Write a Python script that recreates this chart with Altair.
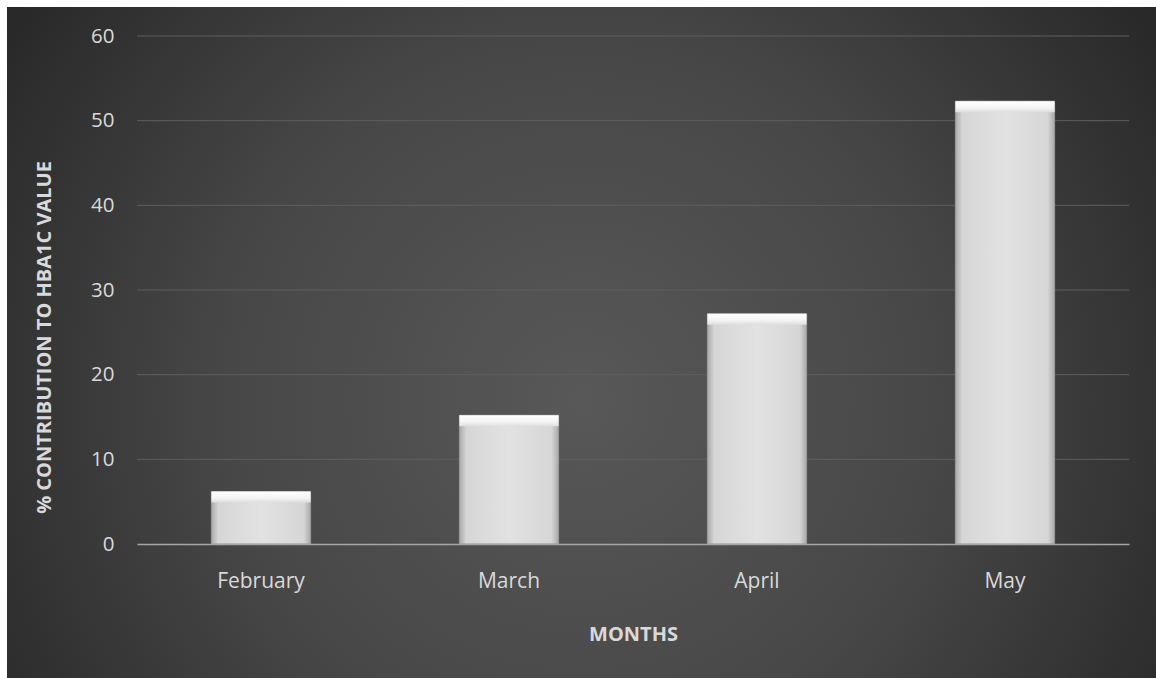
import altair as alt
import pandas as pd

months = ["February", "March", "April", "May"]
values = [6.2, 15.2, 27.2, 52.3]
y_ticks = [0, 10, 20, 30, 40, 50, 60]

df = pd.DataFrame({"month": months, "value": values})
grid_df = pd.DataFrame({"tick": y_ticks[1:]})
bg = pd.DataFrame({"k": [0]})

W, H = 992, 508
FONT = "Open Sans"

background = alt.Chart(bg).mark_rect(
    fill={
        "gradient": "radial",
        "x1": 0.5, "y1": 0.55, "x2": 0.5, "y2": 0.55,
        "r1": 0, "r2": 0.62,
        "stops": [
            {"offset": 0, "color": "#585858"},
            {"offset": 0.5, "color": "#474747"},
            {"offset": 1, "color": "#262626"},
        ],
    }
).encode(
    x=alt.value(-130), x2=alt.value(1019),
    y=alt.value(-29), y2=alt.value(642),
)

yscale = alt.Scale(domain=[0, 60])
yaxis = alt.Axis(
    values=y_ticks,
    title="% CONTRIBUTION TO HBA1C VALUE",
    labelColor="#d9d9d9", labelFont=FONT, labelFontSize=20.5, labelPadding=23,
    domain=False, ticks=False, grid=False,
    titleColor="#d9d9d9", titleFont=FONT, titleFontSize=20, titleFontWeight="bold",
    titleX=-83, titleY=301, titleBaseline="bottom", titleAngle=270, zindex=1,
)

grid = alt.Chart(grid_df).mark_rule(color="#5e5e5e", strokeWidth=1).encode(
    y=alt.Y("tick:Q", scale=yscale, axis=yaxis),
    x=alt.value(0), x2=alt.value(W),
)

xenc = alt.X(
    "month:N", sort=months,
    scale=alt.Scale(paddingInner=0.6, paddingOuter=0.3),
    axis=alt.Axis(
        title="MONTHS", labelAngle=0, labelColor="#d9d9d9", labelFont=FONT,
        labelFontSize=21, labelPadding=26, ticks=False,
        domain=True, domainColor="#a6a6a6", domainWidth=1.5,
        titleColor="#d9d9d9", titleFont=FONT, titleFontSize=20, titleFontWeight="bold",
        titleBaseline="alphabetic", titleY=96, zindex=1,
    ),
)
yenc = alt.Y("value:Q", scale=yscale, axis=yaxis)

bars = alt.Chart(df).mark_bar(
    fill={
        "gradient": "linear", "x1": 0, "y1": 0, "x2": 1, "y2": 0,
        "stops": [
            {"offset": 0, "color": "#a9a9a9"},
            {"offset": 0.07, "color": "#d6d6d6"},
            {"offset": 0.5, "color": "#e2e2e2"},
            {"offset": 0.93, "color": "#d6d6d6"},
            {"offset": 1, "color": "#a9a9a9"},
        ],
    },
    stroke="#9a9a9a", strokeWidth=1,
).encode(x=xenc, y=yenc)

bevel = alt.Chart(df).mark_bar(
    y2Offset=11,
    fill={
        "gradient": "linear", "x1": 0, "y1": 0, "x2": 0, "y2": 1,
        "stops": [
            {"offset": 0, "color": "#ffffff"},
            {"offset": 0.6, "color": "#f4f4f4"},
            {"offset": 1, "color": "#dedede"},
        ],
    },
).encode(x=xenc, y="value:Q", y2="value:Q")

chart = alt.layer(background, grid, bars, bevel).properties(
    width=W, height=H,
    autosize=alt.AutoSizeParams(type="none"),
    padding={"left": 137, "top": 36, "right": 27, "bottom": 134},
    background="white",
).configure_view(stroke=None)

chart.save("out.html", embed_options={"renderer": "svg", "actions": False})
